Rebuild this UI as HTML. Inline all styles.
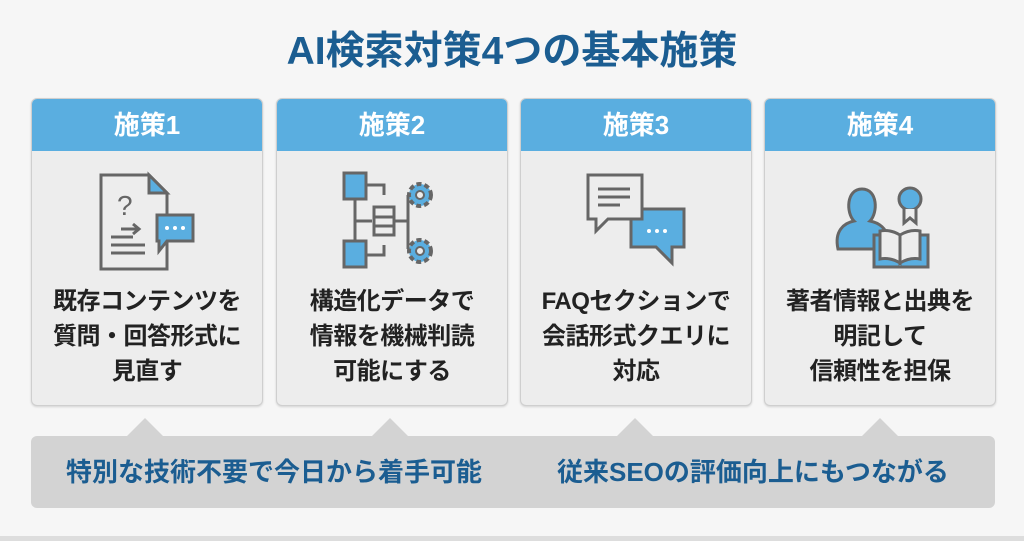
<!DOCTYPE html>
<html><head><meta charset="utf-8"><style>
body{margin:0;width:1024px;height:541px;background:#f6f6f6;font-family:"Liberation Sans","Noto Sans CJK JP",sans-serif;position:relative;overflow:hidden}
.t{position:absolute;left:0;width:1024px;top:28px;text-align:center;font-size:39px;font-weight:bold;color:#1b5d91;line-height:48px}
.c{position:absolute;top:98px;width:230px;height:306px;background:#ededed;border:1px solid #cfcfcf;border-radius:6px;overflow:hidden;box-shadow:0 1px 2px rgba(0,0,0,.15)}
.h{height:52px;background:#5aaee0;color:#fff;font-size:26px;font-weight:bold;text-align:center;line-height:52px}
.ic{position:absolute;left:65px;top:72px}
.x{position:absolute;top:185px;left:0;width:100%;text-align:center;font-size:24px;font-weight:bold;color:#222;line-height:35px;letter-spacing:-0.5px}
.bar{position:absolute;left:31px;top:436px;width:964px;height:72px;background:#d3d3d3;border-radius:6px}
.tri{position:absolute;top:418px;width:0;height:0;border-left:18px solid transparent;border-right:18px solid transparent;border-bottom:18px solid #d3d3d3}
.bt{position:absolute;top:454px;font-size:26px;font-weight:bold;color:#1b5d91;line-height:36px}
.foot{position:absolute;left:0;top:536px;width:1024px;height:5px;background:#ddd}
</style></head><body>
<div class="t">AI検索対策4つの基本施策</div>

<div class="c" style="left:31px"><div class="h">施策1</div>
<svg class="ic" width="100" height="100" viewBox="0 0 100 100"><path d="M4 4H52L70 22V98H4Z" fill="#ededed" stroke="#666" stroke-width="3"/><path d="M52 4V22H70Z" fill="#5aaee0" stroke="#666" stroke-width="3"/><text x="20" y="44" font-size="28" fill="#666" font-family="Liberation Sans">?</text><path d="M24 58H42M36 53L42 58L36 63M14 66H36M14 74H48M14 82H48" stroke="#666" stroke-width="3" fill="none"/><path d="M60 44H96V70H70L62 80V70H60Z" fill="#5aaee0" stroke="#666" stroke-width="3"/><circle cx="70" cy="57" r="2" fill="#fff"/><circle cx="78" cy="57" r="2" fill="#fff"/><circle cx="86" cy="57" r="2" fill="#fff"/></svg>
<div class="x">既存コンテンツを<br>質問・回答形式に<br>見直す</div></div>

<div class="c" style="left:276px"><div class="h">施策2</div>
<svg class="ic" width="100" height="100" viewBox="0 0 100 100"><rect x="2" y="2" width="22" height="26" fill="#5aaee0" stroke="#666" stroke-width="3"/><rect x="2" y="70" width="22" height="26" fill="#5aaee0" stroke="#666" stroke-width="3"/><path d="M24 14H42V24M13 28V70M13 50H30M24 84H42V74M50 50H66M66 24V78" stroke="#666" stroke-width="3" fill="none"/><rect x="32" y="36" width="20" height="28" fill="#ededed" stroke="#666" stroke-width="3"/><path d="M32 46H52M32 55H52" stroke="#666" stroke-width="3"/><circle cx="78" cy="24" r="11" fill="#5aaee0" stroke="#666" stroke-width="4" stroke-dasharray="5 3"/><circle cx="78" cy="24" r="4" fill="#ededed" stroke="#666" stroke-width="2"/><circle cx="78" cy="80" r="11" fill="#5aaee0" stroke="#666" stroke-width="4" stroke-dasharray="5 3"/><circle cx="78" cy="80" r="4" fill="#ededed" stroke="#666" stroke-width="2"/></svg>
<div class="x">構造化データで<br>情報を機械判読<br>可能にする</div></div>

<div class="c" style="left:520px"><div class="h">施策3</div>
<svg class="ic" width="100" height="100" viewBox="0 0 100 100"><path d="M45 38H98V76H86V92L70 76H45Z" fill="#5aaee0" stroke="#666" stroke-width="3"/><path d="M2 4H56V48H22L10 60V48H2Z" fill="#ededed" stroke="#666" stroke-width="3"/><path d="M12 18H44M12 26H44M12 34H34" stroke="#666" stroke-width="3"/><circle cx="63" cy="60" r="2" fill="#fff"/><circle cx="71" cy="60" r="2" fill="#fff"/><circle cx="79" cy="60" r="2" fill="#fff"/></svg>
<div class="x">FAQセクションで<br>会話形式クエリに<br>対応</div></div>

<div class="c" style="left:764px"><div class="h">施策4</div>
<svg class="ic" width="100" height="100" viewBox="0 0 100 100"><path d="M8 78C4 60 14 52 24 50C16 42 16 18 32 18C48 18 48 42 40 50C50 52 56 58 58 66V78Z" fill="#5aaee0" stroke="#666" stroke-width="3"/><circle cx="80" cy="28" r="11" fill="#5aaee0" stroke="#666" stroke-width="3"/><path d="M74 38V52L80 47L86 52V38" fill="#ededed" stroke="#666" stroke-width="3"/><path d="M44 64H98V96H44Z" fill="#5aaee0" stroke="#666" stroke-width="3"/><path d="M50 60Q60 58 70 64V92Q60 86 50 88ZM90 60Q80 58 70 64V92Q80 86 90 88Z" fill="#ededed" stroke="#666" stroke-width="3"/></svg>
<div class="x">著者情報と出典を<br>明記して<br>信頼性を担保</div></div>

<div class="tri" style="left:127px"></div><div class="tri" style="left:372px"></div><div class="tri" style="left:617px"></div><div class="tri" style="left:862px"></div>
<div class="bar"></div>
<div class="bt" style="left:66px">特別な技術不要で今日から着手可能</div>
<div class="bt" style="left:557px">従来SEOの評価向上にもつながる</div>
<div class="foot"></div>
</body></html>
